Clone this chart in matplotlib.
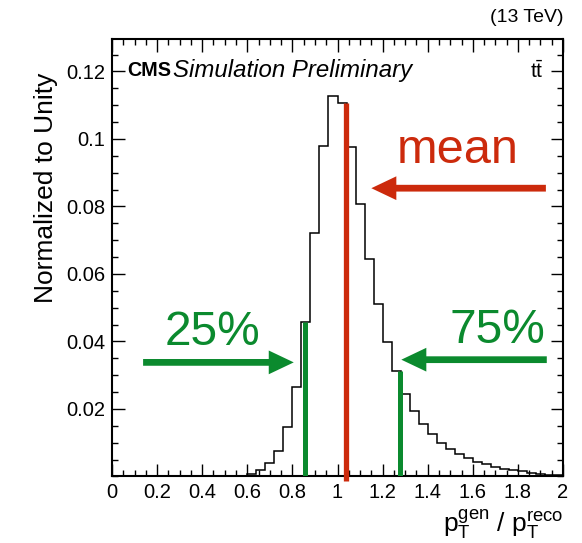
import numpy as np
import matplotlib
matplotlib.use("Agg")
import matplotlib.pyplot as plt
from matplotlib.ticker import MultipleLocator, FormatStrFormatter

plt.rcParams['font.family'] = ['Liberation Sans', 'DejaVu Sans']
plt.rcParams['mathtext.fontset'] = 'custom'
plt.rcParams['mathtext.rm'] = 'Liberation Sans'
plt.rcParams['mathtext.it'] = 'Liberation Sans:italic'
plt.rcParams['mathtext.bf'] = 'Liberation Sans:bold'

# Histogram of pT(gen)/pT(reco), 50 bins of width 0.04 from 0 to 2
bin_lo, bin_hi, n_bins = 0.0, 2.0, 50
hist_values = [
    0, 0, 0, 0, 0, 0, 0, 0, 0, 0, 0, 0, 0, 0, 0,
    0.0006, 0.0018, 0.0039, 0.0076, 0.0146, 0.0266, 0.0457, 0.0720, 0.0980,
    0.1128, 0.1107, 0.0975, 0.0807, 0.0644, 0.0510, 0.0398, 0.0312, 0.0244,
    0.0193, 0.0154, 0.0125, 0.0099, 0.0081, 0.0067, 0.0055, 0.0044, 0.0036,
    0.0029, 0.0023, 0.0019, 0.0015, 0.0011, 0.0008, 0.0005, 0.0003,
]

# summary statistics marked on the plot
q25 = 0.855
mean = 1.039
q75 = 1.277

RED = '#cc2a0c'
GREEN = '#0b8a2e'

fig = plt.figure(figsize=(5.82, 5.43), dpi=100)
ax = fig.add_axes([0.1924, 0.1225, 0.7750, 0.8057])

edges = np.linspace(bin_lo, bin_hi, n_bins + 1)
vals = np.array(hist_values)
ax.stairs(vals, edges, color='black', linewidth=1.1)


def height_at(x):
    i = np.searchsorted(edges, x) - 1
    return vals[i]


ax.vlines(q25, 0, height_at(q25), color=GREEN, linewidth=3.6, zorder=3)
ax.vlines(q75, 0, height_at(q75), color=GREEN, linewidth=3.6, zorder=3)
ax.vlines(mean, -0.0013, height_at(mean), color=RED, linewidth=3.8,
          zorder=3, clip_on=False)

arrow = dict(arrowstyle="simple,head_length=1.0,head_width=0.95,tail_width=0.27",
             mutation_scale=18, shrinkA=0, shrinkB=0, lw=0)

ax.annotate("", xy=(mean + 0.111, 0.0854), xytext=(1.924, 0.0854),
            arrowprops=dict(arrow, color=RED))
ax.text(1.533, 0.0928, "mean", color=RED, fontsize=35, ha='center', va='baseline')

ax.annotate("", xy=(q25 - 0.049, 0.0338), xytext=(0.138, 0.0338),
            arrowprops=dict(arrow, color=GREEN))
ax.text(0.444, 0.0389, "25%", color=GREEN, fontsize=34.5, ha='center', va='baseline')

ax.annotate("", xy=(q75 + 0.006, 0.0346), xytext=(1.928, 0.0346),
            arrowprops=dict(arrow, color=GREEN))
ax.text(1.711, 0.0395, "75%", color=GREEN, fontsize=34.5, ha='center', va='baseline')

ax.set_xlim(bin_lo, bin_hi)
ax.set_ylim(0, 0.1296)

ax.xaxis.set_major_locator(MultipleLocator(0.2))
ax.xaxis.set_minor_locator(MultipleLocator(0.05))
ax.yaxis.set_major_locator(MultipleLocator(0.02))
ax.yaxis.set_minor_locator(MultipleLocator(0.005))
ax.xaxis.set_major_formatter(FormatStrFormatter('%g'))
ax.yaxis.set_major_formatter(FormatStrFormatter('%g'))
ax.tick_params(which='both', direction='in', top=True, right=True, width=1.0,
               labelsize=14.5)
ax.tick_params(which='major', length=9)
ax.tick_params(which='minor', length=4.5)
ax.tick_params(axis='x', pad=5)
ax.tick_params(axis='y', pad=5)
ax.set_yticks([0.02, 0.04, 0.06, 0.08, 0.1, 0.12])
for s in ax.spines.values():
    s.set_linewidth(1.5)

ax.set_ylabel("Normalized to Unity", fontsize=19)
ax.yaxis.set_label_coords(-0.12, 0.66)
ax.set_xlabel(r"$\mathrm{p_{T}^{gen}}$ / $\mathrm{p_{T}^{reco}}$", fontsize=19,
              ha='right')
ax.xaxis.set_label_coords(1.0, -0.07)

ax.text(0.033, 0.927, "CMS", transform=ax.transAxes, fontsize=14.2,
        fontweight='bold', va='center', ha='left')
ax.text(0.136, 0.927, "Simulation Preliminary", transform=ax.transAxes,
        fontsize=17.3, style='italic', va='center', ha='left')
ax.text(0.942, 0.927, r"$\mathrm{t\bar{t}}$", transform=ax.transAxes,
        fontsize=15, va='center', ha='center')
ax.text(1.0, 1.048, "(13 TeV)", transform=ax.transAxes, fontsize=14,
        va='center', ha='right')

fig.savefig("out.png", dpi=100)
